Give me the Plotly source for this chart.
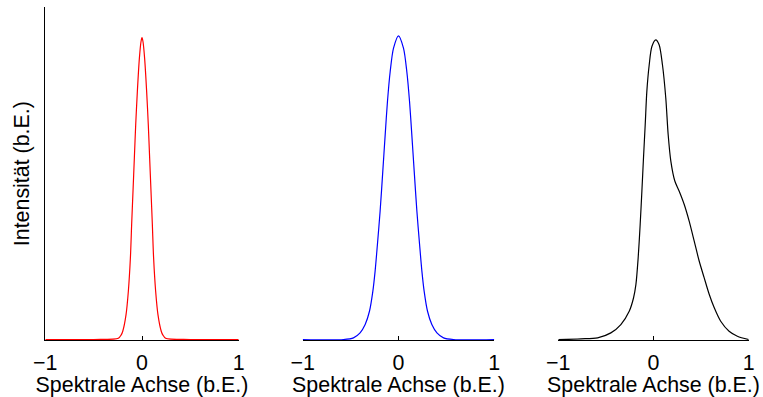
import plotly.graph_objects as go

W, H = 763, 397

# Spectral axis ticks
tick_vals = [-1, 0, 1]
tick_text = ["\u22121", "0", "1"]

# Panel 1 (red): narrow line
x_red = [-1.0, -0.5, -0.244, -0.215, -0.199, -0.165, -0.141, -0.120, -0.107, -0.093,
         -0.079, -0.065, -0.048, -0.027, -0.010, 0.0, 0.010, 0.027, 0.048, 0.065,
         0.079, 0.093, 0.107, 0.120, 0.141, 0.165, 0.199, 0.215, 0.244, 0.5, 1.0]
y_red = [0.0, 0.0, 0.004, 0.014, 0.025, 0.075, 0.146, 0.246, 0.346, 0.447,
         0.547, 0.647, 0.747, 0.847, 0.897, 0.909, 0.897, 0.847, 0.747, 0.647,
         0.547, 0.447, 0.346, 0.246, 0.146, 0.075, 0.025, 0.014, 0.004, 0.0, 0.0]

# Panel 2 (blue): broadened line
x_blue = [-1.0, -0.575, -0.470, -0.401, -0.348, -0.303, -0.268, -0.244, -0.220, -0.192,
          -0.164, -0.139, -0.115, -0.087, -0.052, 0.0, 0.052, 0.087, 0.115, 0.139,
          0.164, 0.192, 0.220, 0.244, 0.268, 0.303, 0.348, 0.401, 0.470, 0.575, 1.0]
y_blue = [0.0, 0.0, 0.005, 0.020, 0.045, 0.085, 0.145, 0.206, 0.286, 0.386,
          0.506, 0.616, 0.717, 0.806, 0.877, 0.914, 0.877, 0.806, 0.717, 0.616,
          0.506, 0.386, 0.286, 0.206, 0.145, 0.085, 0.045, 0.020, 0.005, 0.0, 0.0]

# Panel 3 (black): asymmetric line with a shoulder on the right
x_black = [-1.0, -0.762, -0.587, -0.448, -0.343, -0.255, -0.210, -0.185, -0.161, -0.140,
           -0.122, -0.105, -0.087, -0.070, -0.045, -0.017, 0.024, 0.059, 0.094, 0.129,
           0.154, 0.182, 0.224, 0.269, 0.322, 0.374, 0.427, 0.479, 0.531, 0.584,
           0.636, 0.706, 0.794, 0.881, 1.0]
y_black = [0.0, 0.002, 0.005, 0.020, 0.045, 0.085, 0.125, 0.165, 0.246, 0.346,
           0.447, 0.547, 0.647, 0.747, 0.827, 0.882, 0.902, 0.887, 0.827, 0.727,
           0.617, 0.537, 0.477, 0.447, 0.407, 0.357, 0.297, 0.237, 0.187, 0.137,
           0.097, 0.055, 0.025, 0.010, 0.0]

series = [(x_red, y_red, "red"), (x_blue, y_blue, "blue"), (x_black, y_black, "black")]

# Panel extents in pixels (left, right) and shared vertical extent
panel_px = [(45.3, 238.7), (302.7, 494.3), (558.3, 748.7)]
top_px, bottom_px = 7.3, 340.0

FONT = "Liberation Sans, Arial, Helvetica, sans-serif"
FS = 21.4

fig = go.Figure()
for i, (xs, ys, col) in enumerate(series):
    n = "" if i == 0 else str(i + 1)
    fig.add_trace(go.Scatter(x=xs, y=ys, mode="lines", line=dict(color=col, width=1.2, shape="spline", smoothing=0.8),
                             xaxis="x" + n, yaxis="y" + n, showlegend=False, hoverinfo="skip"))
    l, r = panel_px[i]
    fig.layout["xaxis" + n] = dict(
        domain=[l / W, r / W], range=[-1, 1], anchor="y" + n, automargin=False,
        showline=True, linecolor="black", linewidth=1.3, layer="below traces",
        ticks="inside", ticklen=4, tickwidth=1, tickcolor="black",
        tickmode="array", tickvals=tick_vals, ticktext=tick_text, ticklabelstandoff=3,
        showgrid=False, zeroline=False,
        tickfont=dict(family=FONT, size=FS, color="black"),
        title=dict(text="Spektrale Achse (b.E.)", font=dict(family=FONT, size=FS, color="black"), standoff=2),
    )
    ydict = dict(
        domain=[1 - bottom_px / H, 1 - top_px / H], range=[-0.0015, 1], anchor="x" + n, automargin=False,
        showgrid=False, zeroline=False, showticklabels=False, ticks="",
    )
    if i == 0:
        ydict.update(showline=True, linecolor="black", linewidth=1.3,
                     title=dict(text="Intensität (b.E.)", font=dict(family=FONT, size=FS, color="black"), standoff=8))
    else:
        ydict.update(visible=False)
    fig.layout["yaxis" + n] = ydict

fig.update_layout(
    width=W, height=H, margin=dict(l=0, r=0, t=0, b=0, autoexpand=False),
    paper_bgcolor="white", plot_bgcolor="white",
)

fig.write_html("out.html")
